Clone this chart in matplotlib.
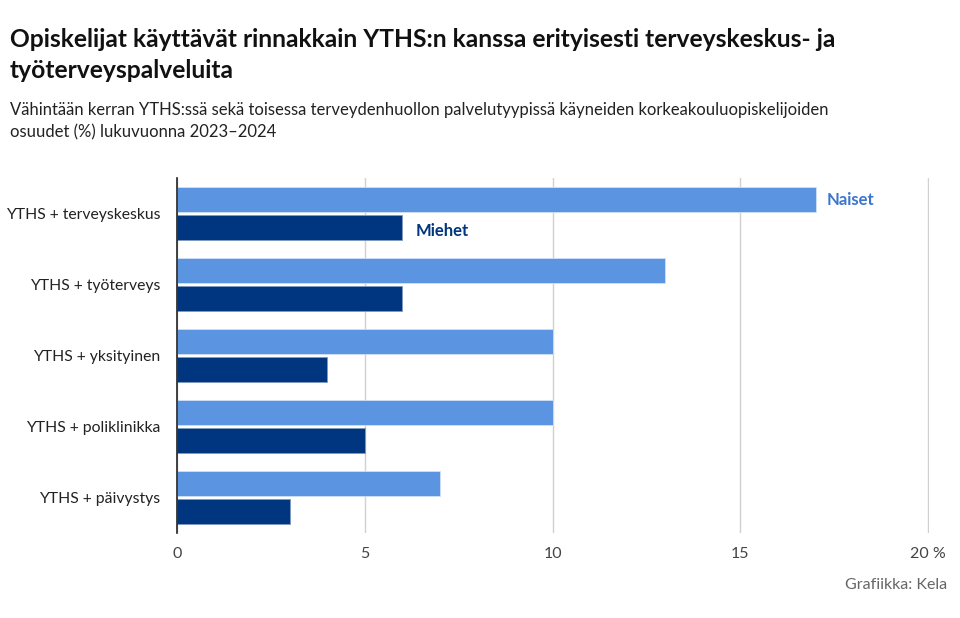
import matplotlib.pyplot as plt
import numpy as np

plt.rcParams['font.family'] = ['Lato', 'DejaVu Sans']

categories = ["YTHS + terveyskeskus", "YTHS + työterveys", "YTHS + yksityinen",
              "YTHS + poliklinikka", "YTHS + päivystys"]
naiset = [17, 13, 10, 10, 7]
miehet = [6, 6, 4, 5, 3]
xticks = [0, 5, 10, 15, 20]
xticklabels = ["0", "5", "10", "15", "20 %"]

c_naiset = "#5b95e2"
c_miehet = "#00357f"

fig = plt.figure(figsize=(9.6, 6.18), dpi=100)
ax = fig.add_axes([0.1844, 0.1375, 0.7833, 0.5745])

y = np.arange(len(categories))
h = 0.36
ax.barh(y - 0.195, naiset, height=h, color=c_naiset, edgecolor="#cfe0f7", linewidth=0.6, zorder=3)
ax.barh(y + 0.195, miehet, height=h, color=c_miehet, edgecolor="#7f9ac0", linewidth=0.6, zorder=3)

ax.set_xlim(0, 20.02)
ax.set_ylim(4.5, -0.5)
ax.set_yticks(y)
ax.set_yticklabels(categories, fontsize=11.3, color="#222222")
ax.set_xticks(xticks)
ax.set_xticklabels(xticklabels, fontsize=11.5, color="#444444")
ax.tick_params(axis="both", length=0, pad=10)
ax.tick_params(axis="y", pad=12)
ax.grid(axis="x", color="#d0d0d0", linewidth=1, zorder=0)
for s in ["top", "right", "bottom"]:
    ax.spines[s].set_visible(False)
ax.spines["left"].set_color("#222222")
ax.spines["left"].set_linewidth(1.2)
ax.spines["left"].set_zorder(4)

# series labels next to the first group
ax.text(naiset[0] + 0.3, -0.195, "Naiset", color="#3a76cc", fontsize=12,
        fontweight="bold", va="center", ha="left")
ax.text(miehet[0] + 0.35, 0.195 + 0.05, "Miehet", color=c_miehet, fontsize=12,
        fontweight="bold", va="center", ha="left")

fig.text(0.0105, 0.955, "Opiskelijat käyttävät rinnakkain YTHS:n kanssa erityisesti terveyskeskus- ja\ntyöterveyspalveluita",
         fontsize=17.7, fontweight="bold", color="#111111", va="top", ha="left", linespacing=1.45)
fig.text(0.0105, 0.835, "Vähintään kerran YTHS:ssä sekä toisessa terveydenhuollon palvelutyypissä käyneiden korkeakouluopiskelijoiden\nosuudet (%) lukuvuonna 2023–2024",
         fontsize=12, color="#222222", va="top", ha="left", linespacing=1.45)
fig.text(0.987, 0.053, "Grafiikka: Kela", fontsize=11.5, color="#666666", ha="right", va="center")

fig.savefig("out.png", dpi=100)
